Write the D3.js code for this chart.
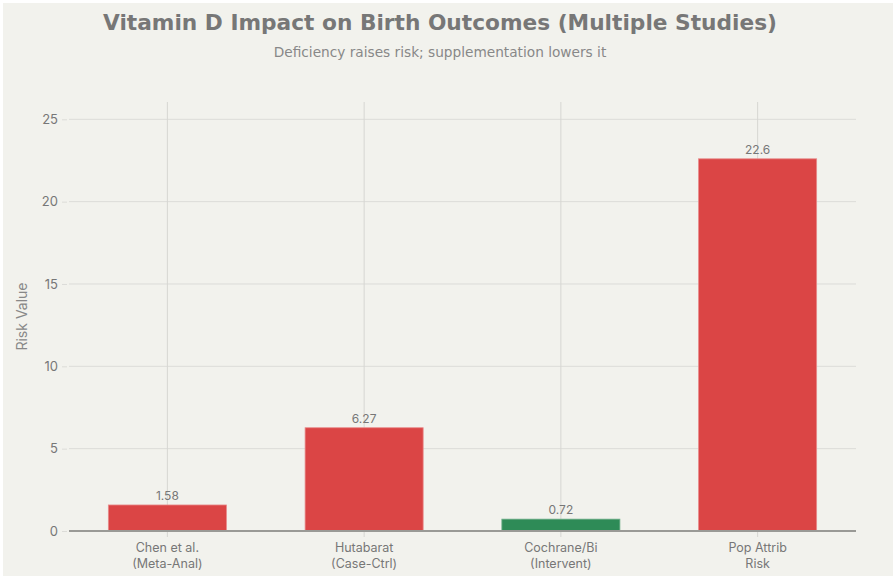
<!DOCTYPE html>
<html>
<head>
<meta charset="utf-8">
<script src="https://cdn.jsdelivr.net/npm/d3@7"></script>
<style>
  body { margin: 0; background: #ffffff; }
  svg { display: block; }
</style>
</head>
<body>
<script>
const studies = [["Chen et al.", "(Meta-Anal)"], ["Hutabarat", "(Case-Ctrl)"], ["Cochrane/Bi", "(Intervent)"], ["Pop Attrib", "Risk"]];
const riskValues = [1.58, 6.27, 0.72, 22.6];
const valueLabels = ["1.58", "6.27", "0.72", "22.6"];
const effectType = ["raise", "raise", "lower", "raise"];
const yTicks = [0, 5, 10, 15, 20, 25];

const width = 896;
const height = 579;
const margin = { top: 102, right: 40, bottom: 48, left: 69 };

const svg = d3.select("body")
  .append("svg")
  .attr("width", width)
  .attr("height", height);

svg.append("rect")
  .attr("x", 3).attr("y", 3)
  .attr("width", width - 6).attr("height", height - 6)
  .attr("fill", "#f2f2ed");

const data = studies.map((s, i) => ({ label: s, value: riskValues[i], text: valueLabels[i], kind: effectType[i] }));

const xScale = d3.scaleBand()
  .domain(data.map((d, i) => i))
  .range([margin.left, width - margin.right])
  .paddingInner(0.4)
  .paddingOuter(0.2);

const yScale = d3.scaleLinear()
  .domain([0, 26.05])
  .range([height - margin.bottom, margin.top]);

const font = "Inter, 'Liberation Sans', sans-serif";

// horizontal grid
svg.append("g")
  .selectAll("line")
  .data(yTicks.filter(t => t > 0))
  .enter()
  .append("line")
  .attr("x1", margin.left)
  .attr("x2", width - margin.right)
  .attr("y1", d => yScale(d))
  .attr("y2", d => yScale(d))
  .attr("stroke", "#dcdcd8")
  .attr("stroke-width", 1);

// vertical grid at categories
svg.append("g")
  .selectAll("line")
  .data(data)
  .enter()
  .append("line")
  .attr("x1", (d, i) => xScale(i) + xScale.bandwidth() / 2)
  .attr("x2", (d, i) => xScale(i) + xScale.bandwidth() / 2)
  .attr("y1", margin.top)
  .attr("y2", height - margin.bottom + 6)
  .attr("stroke", "#d6d6d2")
  .attr("stroke-width", 1);

// y axis labels
const yAxis = d3.axisLeft(yScale).tickValues(yTicks).tickSize(5).tickPadding(4);
const gy = svg.append("g")
  .attr("transform", `translate(${margin.left - 2},0)`)
  .call(yAxis);
gy.select(".domain").remove();
gy.selectAll(".tick line").attr("stroke", "#dcdcd8");
gy.selectAll("text")
  .attr("fill", "#777")
  .style("font-family", font)
  .style("font-size", "13px");

// bars
svg.append("g")
  .selectAll("rect")
  .data(data)
  .enter()
  .append("rect")
  .attr("x", (d, i) => xScale(i))
  .attr("y", d => yScale(d.value))
  .attr("width", xScale.bandwidth())
  .attr("height", d => yScale(0) - yScale(d.value))
  .attr("fill", d => d.kind === "lower" ? "#2e8b57" : "#db4545")
  .attr("stroke", d => d.kind === "lower" ? "#6fae8a" : "#e88a8a")
  .attr("stroke-width", 0.8);

// value labels
svg.append("g")
  .selectAll("text")
  .data(data)
  .enter()
  .append("text")
  .attr("x", (d, i) => xScale(i) + xScale.bandwidth() / 2)
  .attr("y", d => yScale(d.value) - 5)
  .attr("text-anchor", "middle")
  .attr("fill", "#777")
  .style("font-family", font)
  .style("font-size", "12px")
  .text(d => d.text);

// x axis line
svg.append("line")
  .attr("x1", margin.left)
  .attr("x2", width - margin.right)
  .attr("y1", yScale(0))
  .attr("y2", yScale(0))
  .attr("stroke", "#9a9a96")
  .attr("stroke-width", 2);

// x labels
const xl = svg.append("g")
  .selectAll("text")
  .data(data)
  .enter()
  .append("text")
  .attr("x", (d, i) => xScale(i) + xScale.bandwidth() / 2)
  .attr("y", yScale(0) + 21)
  .attr("text-anchor", "middle")
  .attr("fill", "#777")
  .style("font-family", font)
  .style("font-size", "12.5px");
xl.append("tspan").text(d => d.label[0]);
xl.append("tspan")
  .attr("x", (d, i) => xScale(i) + xScale.bandwidth() / 2)
  .attr("dy", 16)
  .text(d => d.label[1]);

// y axis title
svg.append("text")
  .attr("transform", `translate(27, ${(margin.top + height - margin.bottom) / 2}) rotate(-90)`)
  .attr("text-anchor", "middle")
  .attr("fill", "#888")
  .style("font-family", font)
  .style("font-size", "14px")
  .text("Risk Value");

// titles
svg.append("text")
  .attr("x", 440)
  .attr("y", 30)
  .attr("text-anchor", "middle")
  .attr("fill", "#777")
  .style("font-family", "'DejaVu Sans', sans-serif")
  .style("font-weight", "bold")
  .style("font-size", "21.7px")
  .text("Vitamin D Impact on Birth Outcomes (Multiple Studies)");

svg.append("text")
  .attr("x", 440)
  .attr("y", 57)
  .attr("text-anchor", "middle")
  .attr("fill", "#888")
  .style("font-family", "'DejaVu Sans', sans-serif")
  .style("font-size", "13.7px")
  .text("Deficiency raises risk; supplementation lowers it");
</script>
</body>
</html>
